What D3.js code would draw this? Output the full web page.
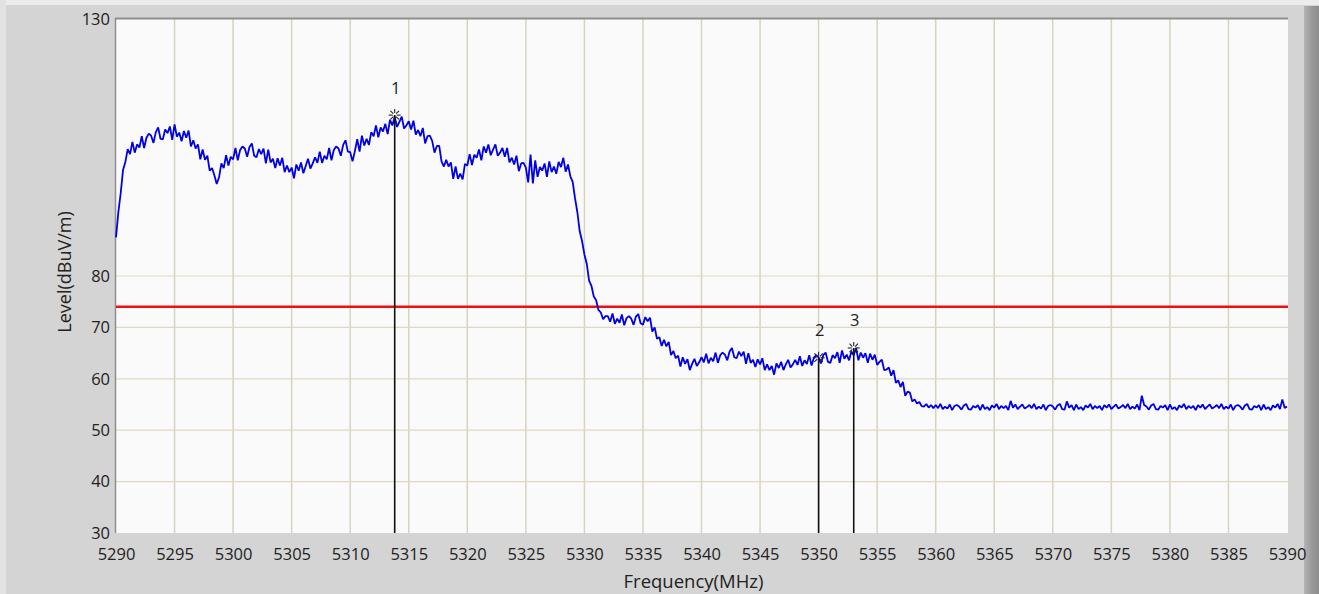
<!DOCTYPE html>
<html><head><meta charset="utf-8">
<script src="https://cdn.jsdelivr.net/npm/d3@7"></script>
<style>
html,body{margin:0;padding:0;background:#d4d4d4;overflow:hidden;}
svg{display:block;}
text{font-family:"Open Sans","Noto Sans","DejaVu Sans",sans-serif;fill:#222;}
</style></head>
<body><svg id="chart" width="1319" height="594"></svg>
<script>
// ---- data ----
const freqStart = 5290;     // MHz
const freqStep = 0.2;       // MHz sweep step (5 readings per MHz)
const levels = [
87.5,92.4,96.1,100.6,102.2,
104.7,103.7,106.1,104.0,105.6,
105.0,107.2,104.9,106.9,107.7,
107.3,105.9,108.0,108.9,106.7,
106.6,108.5,107.8,109.1,106.5,
109.5,107.1,107.9,106.2,108.2,
106.9,108.3,105.2,106.4,104.8,
105.6,102.7,104.6,102.6,103.4,
100.5,101.0,99.6,97.9,99.2,
101.9,101.0,103.5,101.5,103.2,
102.7,104.9,102.5,104.5,105.2,
104.8,103.2,105.1,105.8,103.4,
103.1,104.7,103.7,104.8,101.9,
104.6,102.1,102.8,101.0,102.9,
101.5,103.0,100.2,101.5,100.2,
101.1,99.0,101.7,100.5,102.1,
100.0,101.4,102.8,100.9,101.9,
103.1,102.0,104.2,102.0,103.4,
102.7,104.9,102.5,104.5,105.2,
104.8,103.4,105.5,106.4,104.2,
104.1,102.3,104.3,106.6,104.2,
107.3,105.4,106.7,105.5,108.0,
107.2,109.3,107.0,108.9,108.1,
109.6,107.6,110.4,109.3,111.0,
109.0,110.0,111.0,108.7,109.3,
110.1,108.5,110.2,107.5,108.4,
107.2,108.8,105.8,107.2,107.3,
106.3,104.0,105.3,105.3,102.3,
101.3,102.6,101.3,102.1,98.9,
101.3,98.9,99.9,98.8,101.8,
101.5,103.7,101.6,103.6,103.0,
104.6,102.5,105.2,104.0,105.6,
103.5,104.6,105.6,103.4,104.0,
104.9,103.2,104.9,102.1,103.0,
101.7,103.4,100.4,101.9,102.0,
101.1,98.2,103.6,98.0,102.5,
99.3,101.2,100.5,101.9,99.3,
102.3,100.2,101.3,99.9,102.2,
101.2,103.0,100.3,101.7,99.4,
98.3,95.1,92.4,88.7,86.8,
84.2,82.4,79.1,78.1,76.0,
75.3,73.4,72.9,71.6,72.2,
72.2,71.1,72.7,70.7,71.7,
70.9,72.5,70.4,71.8,72.2,
71.7,70.5,72.1,72.6,70.8,
70.5,72.0,71.2,71.9,69.2,
70.0,67.8,68.1,66.4,67.6,
66.3,67.2,64.6,65.4,64.0,
64.5,62.4,64.2,62.9,63.8,
61.7,62.9,63.9,62.5,63.2,
64.2,63.2,64.9,63.0,64.1,
63.4,65.1,63.1,64.6,65.1,
64.7,63.6,65.3,66.0,64.2,
64.0,65.3,64.4,65.3,62.9,
65.0,63.1,63.7,62.3,63.8,
62.8,64.0,61.7,62.8,61.7,
62.5,60.8,63.0,62.1,63.3,
61.7,62.8,63.7,62.2,62.8,
63.7,62.7,64.4,62.5,63.6,
62.9,64.6,62.6,64.1,64.6,
64.2,63.0,64.6,65.1,63.3,
63.1,64.6,64.0,65.2,63.1,
65.5,63.9,64.7,63.6,65.3,
64.6,66.0,63.6,65.1,64.1,
65.0,63.1,64.9,63.7,64.7,
62.7,63.3,63.7,61.7,61.8,
62.2,60.6,61.7,59.2,59.7,
58.4,59.4,56.7,57.5,57.3,
55.6,56.0,55.2,55.5,54.7,
54.6,55.1,54.4,54.9,54.3,
54.9,54.3,55.1,54.1,54.6,
54.2,55.0,53.9,54.7,54.9,
54.6,54.0,54.8,55.1,54.1,
54.0,54.7,54.4,54.9,53.9,
55.0,54.1,54.5,53.9,54.8,
54.4,55.1,54.1,54.7,54.3,
54.7,53.9,55.7,54.4,55.0,
54.1,54.6,55.0,54.2,54.5,
54.9,54.3,55.1,54.1,54.6,
54.2,55.0,53.9,54.7,54.9,
54.6,54.0,54.8,55.1,54.1,
54.0,55.6,54.4,54.9,53.9,
55.0,54.1,54.5,53.9,54.8,
54.4,55.1,54.1,54.7,54.3,
54.7,53.9,54.9,54.4,55.0,
54.1,54.6,55.0,54.2,54.5,
54.9,54.3,55.1,54.1,54.6,
54.2,55.0,53.9,56.7,54.9,
54.6,54.0,54.8,55.1,54.1,
54.0,54.7,54.4,54.9,53.9,
55.0,54.1,54.5,53.9,54.8,
54.4,55.1,54.1,54.7,54.3,
54.7,53.9,54.9,54.4,55.0,
54.1,54.6,55.0,54.2,54.5,
54.9,54.3,55.1,54.1,54.6,
54.2,55.0,53.9,54.7,54.9,
54.6,54.0,54.8,55.1,54.1,
54.0,54.7,54.4,54.9,53.9,
55.0,54.1,54.5,53.9,54.8,
54.4,55.1,54.1,56.0,54.3,
54.6
];
const limitLevel = 74;
const markerLabels = ["1","2","3"];
const markerFreqs = [5313.8, 5350.0, 5353.0];
const markerLevels = [111.3, 64.1, 66.0];
const xTicks = [5290,5295,5300,5305,5310,5315,5320,5325,5330,5335,5340,5345,5350,5355,5360,5365,5370,5375,5380,5385,5390];
const yTicks = [30,40,50,60,70,80,130];
const yGrid = [40,50,60,70,80];
const xLabel = "Frequency(MHz)";
const yLabel = "Level(dBuV/m)";

// ---- drawing ----
const svg = d3.select("#chart");
const L = 116, R = 1287, T = 19, B = 533;
const x = d3.scaleLinear().domain([5290,5390]).range([L,R]);
const y = d3.scaleLinear().domain([30,130]).range([B,T]);

// window chrome
svg.append("rect").attr("x",0).attr("y",0).attr("width",1319).attr("height",594).attr("fill","#d4d4d4");
svg.append("rect").attr("x",0).attr("y",0).attr("width",1319).attr("height",5).attr("fill","#ececec");
svg.append("rect").attr("x",0).attr("y",0).attr("width",6).attr("height",594).attr("fill","#e2e2e2");
const grad = svg.append("defs").append("linearGradient").attr("id","rg").attr("x1","0").attr("x2","1").attr("y1","0").attr("y2","0");
grad.append("stop").attr("offset","0").attr("stop-color","#b4b4b4");
grad.append("stop").attr("offset","0.5").attr("stop-color","#9a9a9a");
grad.append("stop").attr("offset","1").attr("stop-color","#8c8c8c");
svg.append("rect").attr("x",1304).attr("y",6).attr("width",15).attr("height",588).attr("fill","url(#rg)");

// plot area
svg.append("rect").attr("x",L).attr("y",T).attr("width",R-L+1).attr("height",B-T).attr("fill","#fafafa");

// grid
svg.append("g").selectAll("line").data(xTicks.filter(d=>d>5290 && d<5390)).join("line")
  .attr("x1",d=>x(d)).attr("x2",d=>x(d)).attr("y1",T).attr("y2",B)
  .attr("stroke","#d6d3c3").attr("stroke-width",1.5);
svg.append("g").selectAll("line").data(yGrid).join("line")
  .attr("x1",L).attr("x2",R+1).attr("y1",d=>y(d)).attr("y2",d=>y(d))
  .attr("stroke","#e0d8c0").attr("stroke-width",1.2);

// border
svg.append("line").attr("x1",L-1).attr("x2",R+1).attr("y1",T-0.5).attr("y2",T-0.5).attr("stroke","#8e8e8e").attr("stroke-width",2);
svg.append("line").attr("x1",L-0.5).attr("x2",L-0.5).attr("y1",T-1).attr("y2",B).attr("stroke","#8e8e8e").attr("stroke-width",1.5);

// limit line
svg.append("line").attr("x1",L).attr("x2",R+1).attr("y1",y(limitLevel)).attr("y2",y(limitLevel))
  .attr("stroke","#ee1111").attr("stroke-width",2.5);

// trace
const pts = levels.map((v,i)=>[freqStart+i*freqStep, v]);
svg.append("path").datum(pts)
  .attr("d", d3.line().x(d=>x(d[0])).y(d=>y(d[1])))
  .attr("fill","none").attr("stroke","#0000e6").attr("stroke-width",1.8)
  .attr("stroke-linejoin","bevel");

// markers
const mk = markerLabels.map((lab,i)=>({lab, f:markerFreqs[i], v:markerLevels[i]}));
const mg = svg.append("g");
mg.selectAll("line.ml").data(mk).join("line").attr("class","ml")
  .attr("x1",d=>x(d.f)).attr("x2",d=>x(d.f)).attr("y1",d=>y(d.v)).attr("y2",B)
  .attr("stroke","#111").attr("stroke-width",1.6);
const angles = d3.range(8).map(k=>k*Math.PI/4);
mk.forEach(d=>{
  const cx = x(d.f), cy = y(d.v);
  angles.forEach(a=>{
    mg.append("line")
      .attr("x1",cx+2*Math.cos(a)).attr("y1",cy+2*Math.sin(a))
      .attr("x2",cx+6*Math.cos(a)).attr("y2",cy+6*Math.sin(a))
      .attr("stroke","#222").attr("stroke-width",1.1);
  });
});
mg.selectAll("text").data(mk).join("text")
  .attr("x",d=>x(d.f)+1).attr("y",d=>y(d.v)-28)
  .attr("text-anchor","middle").attr("dominant-baseline","central")
  .attr("font-size",16.5).attr("fill","#222").text(d=>d.lab);

// axes
const xa = svg.append("g").attr("transform",`translate(0,${B})`)
  .call(d3.axisBottom(x).tickValues(xTicks).tickSize(0).tickPadding(15).tickFormat(d3.format("d")));
xa.select(".domain").remove();
xa.selectAll("text").attr("font-size",16.5).style("font-family",'"Open Sans","Noto Sans",sans-serif').attr("fill","#222");

const ya = svg.append("g").attr("transform",`translate(${L-6},0)`)
  .call(d3.axisLeft(y).tickValues(yTicks).tickSize(0).tickPadding(0).tickFormat(d3.format("d")));
ya.select(".domain").remove();
ya.selectAll("text").attr("font-size",16.5).style("font-family",'"Open Sans","Noto Sans",sans-serif').attr("fill","#222");

svg.append("text").attr("x",(L+R)/2-8).attr("y",580).attr("text-anchor","middle")
  .attr("dominant-baseline","central").attr("font-size",18.5).text(xLabel);
svg.append("text").attr("transform","translate(64,272) rotate(-90)").attr("text-anchor","middle")
  .attr("dominant-baseline","central").attr("font-size",18).text(yLabel);
</script></body></html>
